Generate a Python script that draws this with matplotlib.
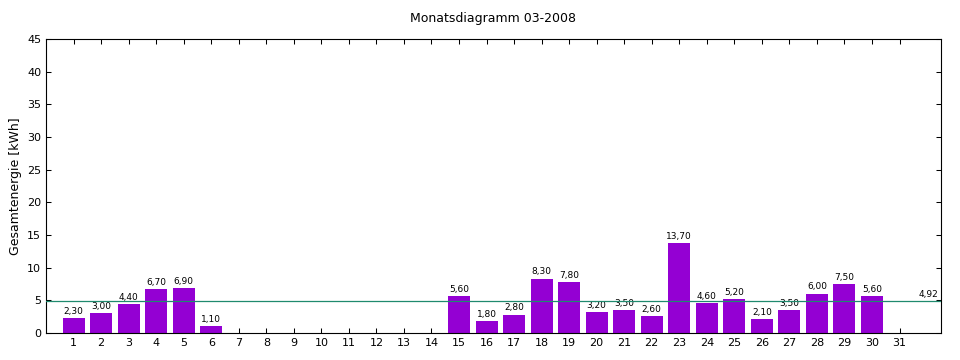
import numpy as np
import matplotlib
matplotlib.use("Agg")
import matplotlib.pyplot as plt

# daily energy values, March 2008 (kWh)
days = list(range(1, 32))
energy = [2.3, 3.0, 4.4, 6.7, 6.9, 1.1, 0, 0, 0, 0,
          0, 0, 0, 0, 5.6, 1.8, 2.8, 8.3, 7.8, 3.2,
          3.5, 2.6, 13.7, 4.6, 5.2, 2.1, 3.5, 6.0, 7.5, 5.6, 0]
average = 4.92

BAR = '#9400D3'
AVG = '#1f8a6e'

def de(v):
    return f"{v:.2f}".replace('.', ',')

fig = plt.figure(figsize=(9.6, 3.6), dpi=100)
ax = fig.add_axes([0.048, 0.075, 0.932, 0.817])

ax.bar(days, energy, width=0.8, color=BAR, zorder=2)
for d, v in zip(days, energy):
    if v > 0:
        ax.text(d, v + 0.35, de(v), ha='center', va='bottom', fontsize=6.5)

ax.axhline(average, color=AVG, linewidth=0.9, zorder=3)
ax.text(32.4, average + 0.35, de(average), ha='right', va='bottom', fontsize=6.5)

ax.set_xlim(0, 32.5)
ax.set_ylim(0, 45)
ax.set_xticks(days)
ax.set_yticks(np.arange(0, 46, 5))
ax.tick_params(direction='in', top=True, right=True, labelsize=8, length=3.5, width=0.75)
for s in ax.spines.values():
    s.set_linewidth(0.8)
ax.set_ylabel("Gesamtenergie [kWh]", fontsize=9)
ax.set_title("Monatsdiagramm 03-2008", fontsize=9, pad=12)

fig.savefig("out.png", dpi=100)
